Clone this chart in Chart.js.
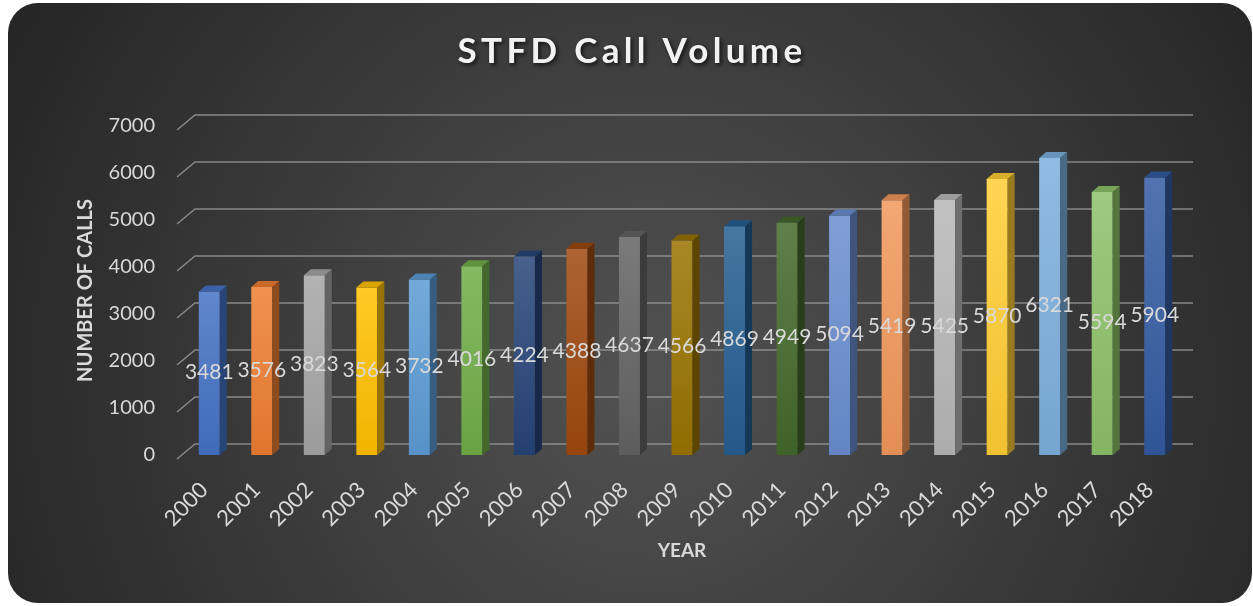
<!DOCTYPE html>
<html>
<head>
<meta charset="utf-8">
<script src="https://cdn.jsdelivr.net/npm/chart.js@4.4.1/dist/chart.umd.min.js"></script>
<style>
  html, body { margin: 0; padding: 0; background: #fff; }
  #wrap { width: 1253px; height: 606px; }
</style>
</head>
<body>
<div id="wrap"><canvas id="bar-chart"></canvas></div>
<script>
const chartTitle = 'STFD Call Volume';
const xTitle = 'YEAR';
const yTitle = 'NUMBER OF CALLS';
const years = ['2000', '2001', '2002', '2003', '2004', '2005', '2006', '2007', '2008', '2009',
               '2010', '2011', '2012', '2013', '2014', '2015', '2016', '2017', '2018'];
const calls = [3481, 3576, 3823, 3564, 3732, 4016, 4224, 4388, 4637, 4566,
               4869, 4949, 5094, 5419, 5425, 5870, 6321, 5594, 5904];
const yMin = 0;
const yMax = 7000;
const yStep = 1000;

const barColors = [
    '#4472C4', '#ED7D31', '#A5A5A5', '#FFC000', '#5B9BD5', '#70AD47', '#264478',
    '#9E480E', '#636363', '#997300', '#255E91', '#43682B', '#698ED0', '#F1975A',
    '#B7B7B7', '#FFCD33', '#7CAFDD', '#8CC168', '#335AA1'
];

const textColor = '#d9d9d9';
const font = 'Lato';

// mix a hex colour with white (amt > 0) or black (amt < 0)
function shade(hex, amt) {
    const n = parseInt(hex.slice(1), 16);
    let r = (n >> 16) & 255, g = (n >> 8) & 255, b = n & 255;
    const t = amt > 0 ? 255 : 0, p = Math.abs(amt);
    r = Math.round(r + (t - r) * p);
    g = Math.round(g + (t - g) * p);
    b = Math.round(b + (t - b) * p);
    return 'rgb(' + r + ',' + g + ',' + b + ')';
}

function frontFill(c) {
    const col = barColors[c.dataIndex];
    const chart = c.chart;
    if (!chart.chartArea) return col;
    const y = chart.scales.y;
    const g = chart.ctx.createLinearGradient(0, y.getPixelForValue(c.raw), 0, y.getPixelForValue(0));
    g.addColorStop(0, shade(col, 0.15));
    g.addColorStop(1, shade(col, -0.06));
    return g;
}

// depth of the 3d look
const depthX = 7, depthY = 6;

const background = {
    id: 'background',
    beforeDraw(chart) {
        const {ctx, width, height} = chart;
        ctx.save();
        const g = ctx.createRadialGradient(650, 380, 0, 650, 380, 720);
        g.addColorStop(0, '#525252');
        g.addColorStop(1, '#262626');
        ctx.beginPath();
        ctx.roundRect(8, 3, width - 9, height - 6, 30);
        ctx.fillStyle = g;
        ctx.fill();
        ctx.restore();
    }
};

const wallGrid = {
    id: 'wallGrid',
    beforeDatasetsDraw(chart) {
        const {ctx, chartArea, scales} = chart;
        ctx.save();
        ctx.strokeStyle = 'rgba(150,150,150,0.85)';
        ctx.lineWidth = 1.5;
        scales.y.ticks.forEach(t => {
            const y = scales.y.getPixelForValue(t.value);
            ctx.beginPath();
            ctx.moveTo(chartArea.left - 6, y + 4);
            ctx.lineTo(chartArea.left + 12, y - 11);
            ctx.lineTo(chartArea.right + 12, y - 11);
            ctx.stroke();
        });
        ctx.restore();
    }
};

const bars3d = {
    id: 'bars3d',
    afterDatasetsDraw(chart) {
        const {ctx} = chart;
        const meta = chart.getDatasetMeta(0);
        ctx.save();
        meta.data.forEach((el, i) => {
            const {x, y, base, width} = el.getProps(['x', 'y', 'base', 'width'], true);
            const col = barColors[i];
            const l = x - width / 2, r = x + width / 2;
            // side
            ctx.beginPath();
            ctx.moveTo(r, y);
            ctx.lineTo(r + depthX, y - depthY);
            ctx.lineTo(r + depthX, base - depthY);
            ctx.lineTo(r, base);
            ctx.closePath();
            ctx.fillStyle = shade(col, -0.4);
            ctx.fill();
            // top
            ctx.beginPath();
            ctx.moveTo(l, y);
            ctx.lineTo(l + depthX, y - depthY);
            ctx.lineTo(r + depthX, y - depthY);
            ctx.lineTo(r, y);
            ctx.closePath();
            ctx.fillStyle = shade(col, -0.15);
            ctx.fill();
        });
        // value labels
        ctx.font = '21px ' + font;
        ctx.fillStyle = textColor;
        ctx.textAlign = 'center';
        ctx.textBaseline = 'middle';
        meta.data.forEach((el, i) => {
            const {x, y, base} = el.getProps(['x', 'y', 'base'], true);
            ctx.fillText(String(calls[i]), x, (y + base) / 2 - 1);
        });
        ctx.restore();
    }
};

const titleDraw = {
    id: 'titleDraw',
    afterDraw(chart) {
        const {ctx} = chart;
        ctx.save();
        ctx.font = 'bold 35px ' + font;
        ctx.letterSpacing = '4.3px';
        ctx.textAlign = 'center';
        ctx.textBaseline = 'alphabetic';
        ctx.shadowColor = 'rgba(0,0,0,0.7)';
        ctx.shadowBlur = 4;
        ctx.shadowOffsetX = 2;
        ctx.shadowOffsetY = 2;
        ctx.fillStyle = '#f2f2f2';
        ctx.fillText(chartTitle, 632, 63);
        ctx.restore();
    }
};

const ctx = document.getElementById('bar-chart');

new Chart(ctx, {
    type: 'bar',
    data: {
        labels: years,
        datasets: [{
            label: yTitle,
            data: calls,
            backgroundColor: frontFill,
            borderWidth: 0,
            barPercentage: 0.5,
            categoryPercentage: 0.8
        }]
    },
    options: {
        responsive: true,
        maintainAspectRatio: false,
        animation: false,
        layout: { padding: { left: 0, right: 72, top: 126, bottom: 0 } },
        plugins: {
            legend: { display: false },
            title: { display: false },
            tooltip: { enabled: false }
        },
        scales: {
            x: {
                grid: { display: false, drawTicks: false },
                border: { display: false },
                ticks: {
                    color: textColor,
                    font: { family: font, size: 22 },
                    minRotation: 45,
                    maxRotation: 45,
                    padding: 22,
                    labelOffset: -5
                },
                title: {
                    display: true,
                    text: xTitle,
                    color: textColor,
                    font: { family: font, size: 19, weight: 'bold' },
                    padding: { top: 0, bottom: 44 }
                },
                afterFit: s => { s.height = 151; }
            },
            y: {
                min: yMin,
                max: yMax,
                grid: { display: false, drawTicks: false },
                border: { display: false },
                ticks: {
                    stepSize: yStep,
                    color: textColor,
                    font: { family: font, size: 20 },
                    padding: 28,
                    callback: v => String(v)
                },
                title: {
                    display: true,
                    text: yTitle,
                    color: textColor,
                    font: { family: font, size: 20, weight: 'bold' },
                    padding: { top: 74, bottom: 0 }
                },
                afterFit: s => { s.width = 183; }
            }
        }
    },
    plugins: [background, wallGrid, bars3d, titleDraw]
});
</script>
</body>
</html>
